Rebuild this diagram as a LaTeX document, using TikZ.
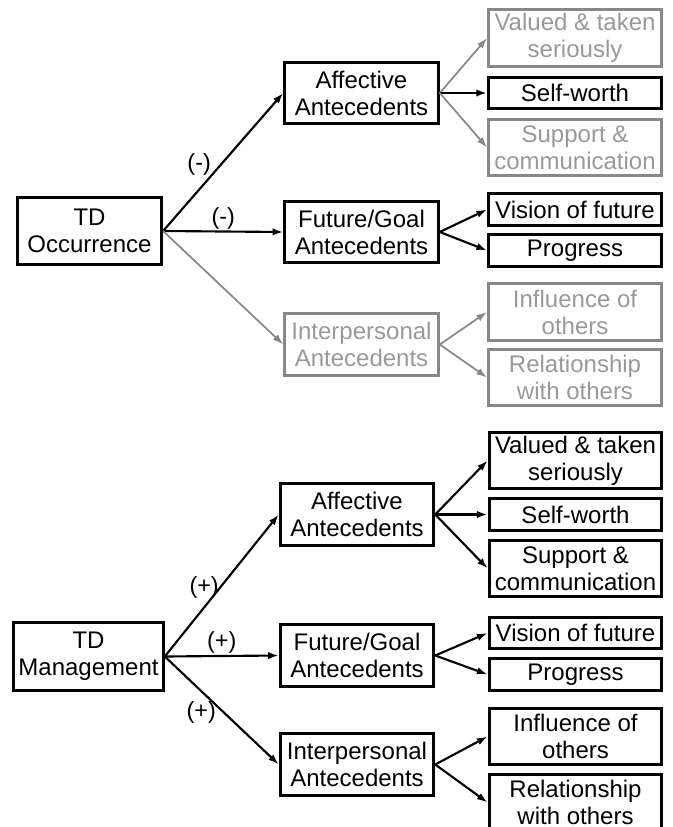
\documentclass[tikz,border=0pt]{standalone}
\usepackage{fontspec}
\setmainfont{Liberation Sans}
\usetikzlibrary{arrows.meta}

\definecolor{boxgray}{HTML}{888888}
\definecolor{textgray}{HTML}{999999}

\begin{document}
\begin{tikzpicture}[
    x = 0.75pt,
    y = -0.75pt,
    >={Latex[length=8pt,width=5.5pt]},
    box/.style = {
      draw,
      line width = 2.4pt,
      align = center,
      inner sep = 0pt,
      font = \fontsize{18}{20.25}\selectfont
    },
    root/.style = {box, minimum width = 108pt, minimum height = 50pt},
    mid/.style = {box, minimum width = 115pt, minimum height = 46pt},
    leaf/.style = {box, minimum width = 129.5pt, minimum height = 42.5pt},
    leafone/.style = {box, minimum width = 129.5pt, minimum height = 23.5pt},
    faded/.style = {draw = boxgray, text = textgray},
    link/.style = {->, line width = 1.6pt},
    fadedlink/.style = {->, line width = 1.3pt, boxgray},
    sign/.style = {inner sep = 1pt, font = \fontsize{17.5}{20}\selectfont}
  ]
  \useasboundingbox (0,0) rectangle (673,827);

  % occurrence tree
  \node[root] (occ) at (89.5,231) {TD\\Occurrence};

  \node[mid] (affA) at (361.5,93) {Affective\\Antecedents};
  \node[mid] (futA) at (361.5,232) {Future/Goal\\Antecedents};
  \node[mid, faded] (intA) at (361.5,344.5) {Interpersonal\\Antecedents};

  \node[leaf, faded] (valA) at (575,38) {Valued \& taken\\seriously};
  \node[leafone] (selfA) at (575,93) {Self-worth};
  \node[leaf, faded] (supA) at (575,147.5) {Support \&\\communication};
  \node[leafone] (visA) at (575,209.5) {Vision of future};
  \node[leafone] (proA) at (575,250.5) {Progress};
  \node[leaf, faded] (infA) at (575,312) {Influence of\\others};
  \node[leaf, faded] (relA) at (575,377.5) {Relationship\\with others};

  \draw[link] (occ.east) -- (affA.west) node[sign, pos=0.3, yshift=18.75pt] {(-)};
  \draw[link] (occ.east) -- (futA.west) node[sign, midway, above] {(-)};
  \draw[fadedlink] (occ.east) -- (intA.west);

  \draw[fadedlink] (affA.east) -- (valA.west);
  \draw[link] (affA.east) -- (selfA.west);
  \draw[fadedlink] (affA.east) -- (supA.west);
  \draw[link] (futA.east) -- (visA.west);
  \draw[link] (futA.east) -- (proA.west);
  \draw[fadedlink] (intA.east) -- (infA.west);
  \draw[fadedlink] (intA.east) -- (relA.west);

  % management tree
  \node[root, minimum width = 112pt, minimum height = 51pt] (man) at (88.5,656.5) {TD\\Management};

  \node[mid] (affB) at (357,514.5) {Affective\\Antecedents};
  \node[mid] (futB) at (357,655.5) {Future/Goal\\Antecedents};
  \node[mid] (intB) at (357,764.5) {Interpersonal\\Antecedents};

  \node[leaf] (valB) at (575.5,460.5) {Valued \& taken\\seriously};
  \node[leafone] (selfB) at (575.5,514.5) {Self-worth};
  \node[leaf] (supB) at (575.5,568.5) {Support \&\\communication};
  \node[leafone] (visB) at (575.5,633) {Vision of future};
  \node[leafone] (proB) at (575.5,674.5) {Progress};
  \node[leaf] (infB) at (575.5,736.5) {Influence of\\others};
  \node[leaf] (relB) at (575.5,802.5) {Relationship\\with others};

  \draw[link] (man.east) -- (affB.west) node[sign, pos=0.345, yshift=15.4pt] {(+)};
  \draw[link] (man.east) -- (futB.west) node[sign, midway, above] {(+)};
  \draw[link] (man.east) -- (intB.west) node[sign, pos=0.32, yshift=-15.75pt] {(+)};

  \draw[link] (affB.east) -- (valB.west);
  \draw[link] (affB.east) -- (selfB.west);
  \draw[link] (affB.east) -- (supB.west);
  \draw[link] (futB.east) -- (visB.west);
  \draw[link] (futB.east) -- (proB.west);
  \draw[link] (intB.east) -- (infB.west);
  \draw[link] (intB.east) -- (relB.west);

\end{tikzpicture}
\end{document}
